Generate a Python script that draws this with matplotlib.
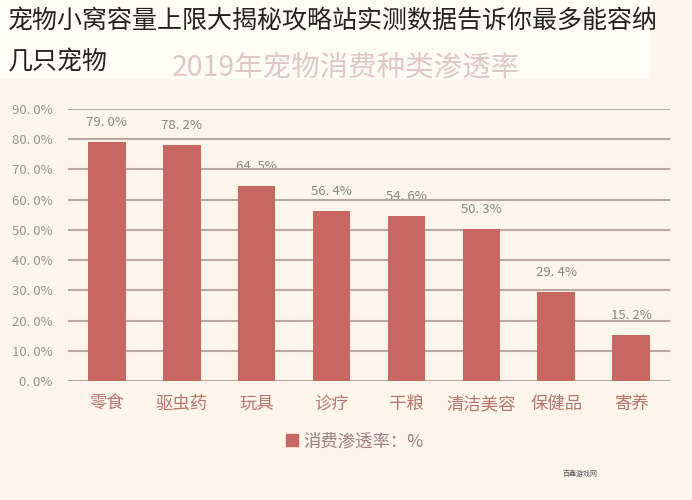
import matplotlib
matplotlib.use("Agg")
import matplotlib.pyplot as plt
from matplotlib.patches import Rectangle, Patch

plt.rcParams['font.family'] = ['Noto Sans CJK SC', 'DejaVu Sans']

categories = ["零食", "驱虫药", "玩具", "诊疗", "干粮", "清洁美容", "保健品", "寄养"]
values = [79.0, 78.2, 64.5, 56.4, 54.6, 50.3, 29.4, 15.2]
yticks = [0, 10, 20, 30, 40, 50, 60, 70, 80, 90]
ylabels = ["%d. 0%%" % t for t in yticks]

bg = "#fdf4ea"
bar_color = "#c8675f"
grid_color = "#b9a7a2"

fig = plt.figure(figsize=(6.92, 5.0), dpi=100, facecolor=bg)
ax = fig.add_axes([68/692, 119/500, 602/692, 272/500])
ax.set_facecolor(bg)

# white strip behind the overlay caption at the top
fig.patches.append(Rectangle((0, 1 - 79/500), 650/692, 79/500,
                             transform=fig.transFigure, facecolor="#fffcf8",
                             edgecolor="none", zorder=0))

x = list(range(len(categories)))
ax.bar(x, values, width=0.5, color=bar_color, zorder=2, label="消费渗透率：%")

for t in yticks:
    ax.axhline(t, color=grid_color, lw=1.5, zorder=1)

for xi, v in zip(x, values):
    ax.annotate(("%.1f%%" % v).replace(".", ". "), (xi, v), xytext=(0, 14),
                textcoords="offset points", ha="center", va="center",
                fontsize=9.5, color="#8c8482", fontweight="light", zorder=0.5)

ax.set_xlim(-0.52, len(categories) - 0.48)
ax.set_ylim(0, 90)
ax.set_xticks(x)
ax.set_xticklabels(categories, fontsize=12.5, color="#b8766f", fontweight="light")
ax.set_yticks(yticks)
ax.set_yticklabels(ylabels, fontsize=9.5, color="#9a9290", fontweight="light")
ax.tick_params(axis="x", length=0, pad=10)
ax.tick_params(axis="y", length=0, pad=11)
for s in ax.spines.values():
    s.set_visible(False)

fig.legend(handles=[Patch(color=bar_color, label="消费渗透率：%")],
           loc="center", bbox_to_anchor=(355/692, 1 - 441/500),
           frameon=False, fontsize=12.5, handlelength=0.7, handleheight=0.7,
           handletextpad=0.3, labelcolor="#9c7e7b")

fig.text(346/692, 1 - 67/500, "2019年宠物消费种类渗透率", ha="center", va="center",
         fontsize=20.5, color="#dfc6c8", fontweight="light")

fig.text(8/692, 1 - 22/500, "宠物小窝容量上限大揭秘攻略站实测数据告诉你最多能容纳",
         ha="left", va="center", fontsize=18, color="#222222", fontweight="light")
fig.text(8/692, 1 - 62/500, "几只宠物", ha="left", va="center",
         fontsize=18, color="#222222", fontweight="light")

fig.text(580/692, 1 - 474/500, "百鑫游戏网", ha="center", va="center",
         fontsize=5, color="#555555")

fig.savefig("out.png", dpi=100, facecolor=bg)
